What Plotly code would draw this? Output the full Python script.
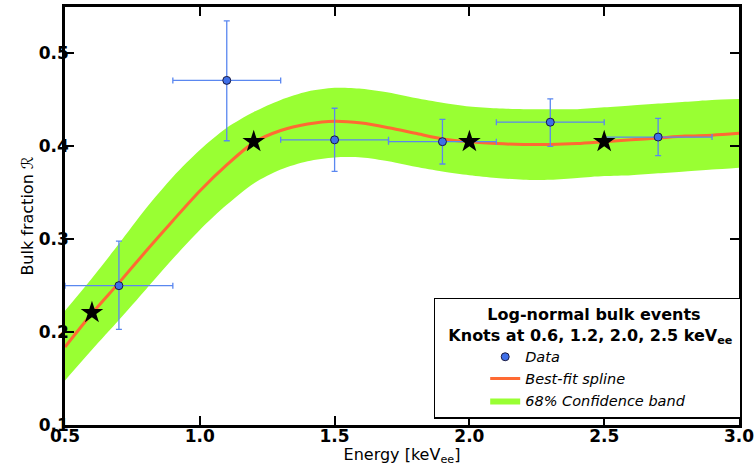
import plotly.graph_objects as go

# ---- data ----
data_energy = [0.7, 1.1, 1.5, 1.9, 2.3, 2.7]
data_frac = [0.250, 0.471, 0.407, 0.405, 0.426, 0.410]
data_xerr = [0.2, 0.2, 0.2, 0.2, 0.2, 0.2]
data_yerr_plus = [0.048, 0.064, 0.034, 0.024, 0.025, 0.020]
data_yerr_minus = [0.047, 0.065, 0.034, 0.024, 0.026, 0.020]

knot_energy = [0.6, 1.2, 2.0, 2.5]
knot_frac = [0.221, 0.405, 0.405, 0.405]

curve_energy = [0.5, 0.6, 0.7, 0.8, 0.9, 1.0, 1.1, 1.2, 1.3, 1.4, 1.5, 1.6, 1.7,
                1.8, 1.9, 2.0, 2.1, 2.2, 2.3, 2.4, 2.5, 2.6, 2.7, 2.8, 2.9, 3.0]
curve_frac = [0.184, 0.220, 0.253, 0.287, 0.320, 0.352, 0.380, 0.404, 0.417, 0.424,
              0.427, 0.425, 0.420, 0.414, 0.408, 0.405, 0.403, 0.402, 0.402, 0.403,
              0.405, 0.407, 0.409, 0.411, 0.412, 0.414]
band_upper = [0.223, 0.258, 0.295, 0.333, 0.367, 0.396, 0.420, 0.437, 0.450, 0.459,
              0.463, 0.462, 0.458, 0.452, 0.447, 0.443, 0.441, 0.440, 0.440, 0.440,
              0.442, 0.444, 0.446, 0.448, 0.450, 0.451]
band_lower = [0.148, 0.181, 0.213, 0.246, 0.279, 0.310, 0.337, 0.360, 0.375, 0.384,
              0.388, 0.388, 0.384, 0.378, 0.373, 0.369, 0.366, 0.364, 0.364, 0.366,
              0.368, 0.369, 0.371, 0.373, 0.375, 0.377]

x_ticks = [0.5, 1.0, 1.5, 2.0, 2.5, 3.0]
y_ticks = [0.1, 0.2, 0.3, 0.4, 0.5]

GREEN = "#99ff33"
ORANGE = "#ff6a33"
BLUE_ERR = "#5a87f0"
BLUE_PT = "#3f6fe8"
FONT = "DejaVu Sans"

fig = go.Figure()

fig.add_trace(go.Scatter(
    x=curve_energy, y=band_lower, mode="lines",
    line=dict(width=0, shape="spline", smoothing=0.8, color=GREEN),
    showlegend=False, hoverinfo="skip"))
fig.add_trace(go.Scatter(
    x=curve_energy, y=band_upper, mode="lines",
    line=dict(width=0, shape="spline", smoothing=0.8, color=GREEN),
    fill="tonexty", fillcolor=GREEN, name="68% Confidence band", legendrank=3))
fig.add_trace(go.Scatter(
    x=curve_energy, y=curve_frac, mode="lines",
    line=dict(width=3, shape="spline", smoothing=0.8, color=ORANGE),
    name="Best-fit spline", legendrank=2))
fig.add_trace(go.Scatter(
    x=data_energy, y=data_frac, mode="markers",
    marker=dict(size=8, color=BLUE_PT, line=dict(color="#1a1a40", width=1)),
    error_x=dict(type="data", array=data_xerr, color=BLUE_ERR, thickness=1.3, width=3),
    error_y=dict(type="data", array=data_yerr_plus, arrayminus=data_yerr_minus,
                 color=BLUE_ERR, thickness=1.3, width=3),
    name="Data", legendrank=1))
fig.add_trace(go.Scatter(
    x=knot_energy, y=knot_frac, mode="markers",
    marker=dict(symbol="star", size=17, color="black", line=dict(width=0)),
    showlegend=False))

axis_common = dict(
    showline=True, linecolor="black", linewidth=2.5, mirror="ticks",
    ticks="inside", ticklen=9, tickwidth=2, tickcolor="black",
    showgrid=False, zeroline=False, automargin=False,
    tickfont=dict(family=FONT, size=17, color="black", weight="bold"),
    tickformat=".1f",
)

fig.update_xaxes(range=[0.5, 3.0], tickvals=x_ticks, ticklabelstandoff=-6,
                 title=dict(text="Energy [keV<sub>ee</sub>]", standoff=2,
                            font=dict(family=FONT, size=16, color="black")),
                 **axis_common)
fig.update_yaxes(range=[0.1, 0.55], tickvals=y_ticks, ticklabelstandoff=-10,
                 title=dict(text="Bulk fraction ℛ", standoff=2,
                            font=dict(family=FONT, size=16, color="black")),
                 **axis_common)

NB = "\u00a0"
legend_title = (NB * 9 + "Log-normal bulk events<br>" + NB * 2 +
                "Knots at 0.6, 1.2, 2.0, 2.5 keV<sub>ee</sub>" + NB)

fig.update_layout(
    width=756, height=466,
    margin=dict(l=65, r=17, t=7, b=41),
    plot_bgcolor="white", paper_bgcolor="white",
    legend=dict(
        x=1.004, xanchor="right", y=0.015, yanchor="bottom",
        bgcolor="white", bordercolor="black", borderwidth=1.5,
        font=dict(family=FONT, size=14.5, color="black", style="italic"),
        title=dict(text=legend_title, side="top",
                   font=dict(family=FONT, size=16, color="black",
                             weight="bold", style="normal")),
        indentation=50, tracegroupgap=0, traceorder="normal",
    ),
)

fig.write_html("out.html", config={"displayModeBar": False},
               post_script="document.body.style.margin='0';document.body.style.overflow='hidden';")
